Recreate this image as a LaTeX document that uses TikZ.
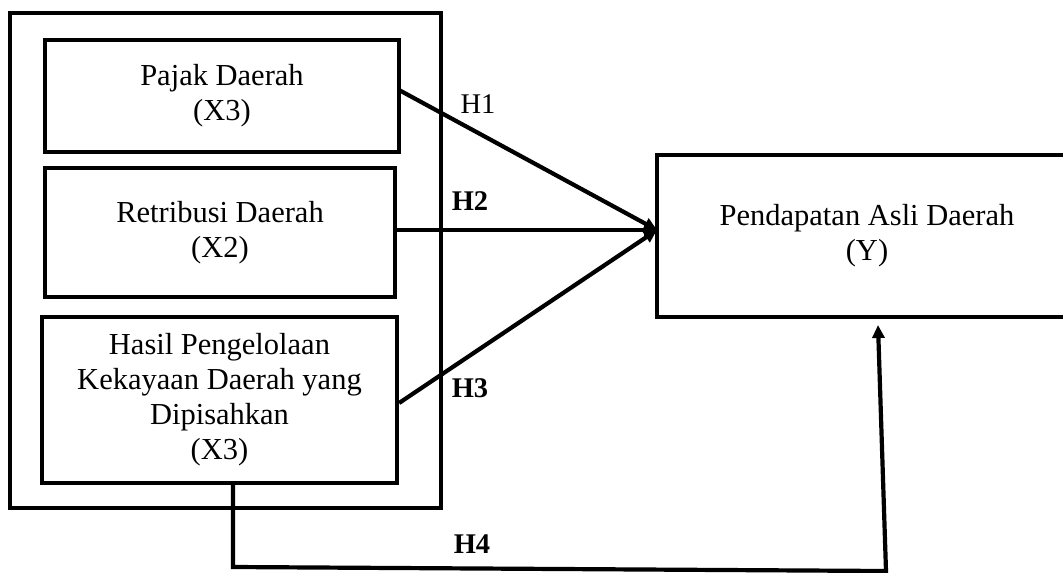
\documentclass[tikz,border=0pt]{standalone}
\usepackage{fontspec}
\setmainfont{Liberation Serif}
\usetikzlibrary{arrows.meta,calc}
\begin{document}
\begin{tikzpicture}[x=1pt,y=-1pt,
  box/.style={draw=black,line width=4.2pt,inner sep=0pt,align=center,
    font=\fontsize{30.5}{35}\selectfont},
  conn/.style={draw=black,line width=4.2pt,-{Triangle[length=13pt,width=12pt]}},
  hlab/.style={inner sep=0pt,font=\fontsize{28.5}{32}\selectfont}]
\useasboundingbox (0,0) rectangle (1063,573);
\clip (0,0) rectangle (1063,573);
\node[box,minimum width=431pt,minimum height=495pt] (outer) at (225.5,260.5) {};
\node[box,minimum width=354pt,minimum height=112pt] (b1) at (222,96) {Pajak Daerah\\(X3)};
\node[box,minimum width=350pt,minimum height=129pt] (b2) at (220,232.5) {Retribusi Daerah\\(X2)};
\node[box,minimum width=355pt,minimum height=166pt] (b3) at (219.5,400) {Hasil Pengelolaan\\Kekayaan Daerah yang\\Dipisahkan\\(X3)};
\node[box,minimum width=420pt,minimum height=162pt] (Y) at (867,236) {Pendapatan Asli Daerah\\(Y)};
\coordinate (tip) at (657,230);
\coordinate (s1) at (399,90);
\coordinate (h4a) at (233,567);
\coordinate (h4b) at (886,571);
\coordinate (h4c) at (878,325);
\draw[conn] (s1) -- (tip);
\draw[conn] (b2.east |- tip) -- (tip);
\draw[conn] ($(b3.east)+(0,3)$) -- (tip);
\draw[conn,line join=miter] (b3.south -| h4a) -- (h4a) -- (h4b) -- (h4c);
\node[hlab] (lh1) at (478,104) {H1};
\node[hlab] (lh2) at (470,201) {\textbf{H2}};
\node[hlab] (lh3) at (470,388) {\textbf{H3}};
\node[hlab] (lh4) at (472,544) {\textbf{H4}};
\end{tikzpicture}
\end{document}
